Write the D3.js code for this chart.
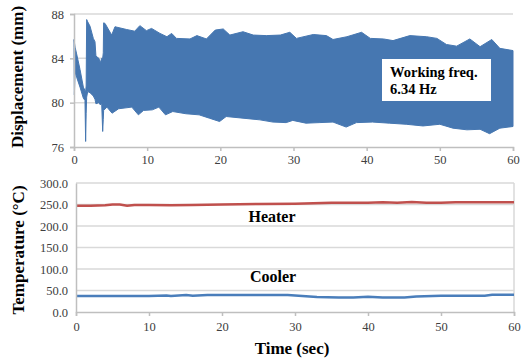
<!DOCTYPE html>
<html>
<head>
<meta charset="utf-8">
<script src="https://cdn.jsdelivr.net/npm/d3@7"></script>
<style>
  body { margin: 0; background: #fff; }
</style>
</head>
<body>
<svg id="chart" width="523" height="358"></svg>
<script>
// Displacement signal: the 6.34 Hz oscillation is drawn as its upper/lower envelope
const upperTime = [0, 0.15, 0.36, 0.82, 1.28, 1.5, 1.59, 1.66, 1.73, 1.87, 2.19, 2.64, 2.87, 3.0, 3.4, 3.6, 3.78, 3.92, 4.0, 4.05, 4.24,
  5.15, 5.6, 7.2, 8.3, 9.0, 9.9, 10.6, 11.75, 12.7, 13.35, 14.0, 15.85, 16.8, 18.1, 19.3, 20.4, 21.3, 23.1, 24.5, 26.3, 28.2, 29.5, 30.4,
  32.7, 34.5, 35.4, 37.3, 39.3, 40.5, 42.3, 43.6, 45.9, 48.2, 49.6, 50.9, 52.3, 54.1, 55.5, 57.1, 58.2, 60];
const upperDisp = [85.7, 85.0, 84.4, 83.0, 81.4, 81.1, 81.0, 81.5, 87.5, 87.3, 86.9, 85.8, 85.5, 84.2, 84.0, 83.6, 84.0, 84.0, 84.5, 87.2, 87.15,
  86.1, 86.85, 86.6, 86.45, 86.95, 86.5, 86.7, 86.25, 85.95, 86.25, 85.8, 85.75, 86.05, 85.75, 86.55, 86.65, 86.1, 86.4, 86.1, 86.05, 86.1, 86.35, 85.8,
  86.15, 86.05, 85.7, 85.95, 86.35, 85.8, 85.75, 85.6, 86.05, 85.95, 85.8, 85.25, 85.1, 85.75, 85.05, 85.7, 84.9, 84.7];
const lowerTime = [0, 0.05, 0.15, 0.36, 0.82, 1.28, 1.5, 1.59, 1.66, 1.73, 1.87, 2.19, 2.64, 2.87, 3.0, 3.4, 3.6, 3.78, 3.92, 4.0, 4.05, 4.5,
  5.2, 6.1, 7.9, 8.8, 9.5, 10.7, 11.6, 12.5, 13.5, 15.3, 17.1, 18.5, 19.9, 20.8, 23.1, 25.4, 27.2, 29.0, 29.9, 31.7, 33.5, 35.4, 37.2,
  38.6, 40.8, 43.1, 45.4, 47.7, 50.0, 51.8, 53.7, 55.5, 56.8, 58.2, 60];
const lowerDisp = [85.0, 80.7, 82.8, 82.3, 81.4, 80.4, 80.2, 76.5, 79.0, 80.5, 81.0, 80.9, 80.6, 80.3, 79.9, 80.0, 79.8, 80.0, 77.4, 78.5, 79.3, 79.6,
  79.05, 79.45, 79.6, 78.9, 79.3, 79.35, 79.6, 78.9, 79.2, 79.0, 78.9, 78.6, 78.3, 78.75, 78.6, 78.45, 78.25, 78.2, 78.4, 78.15, 78.2, 78.25, 77.8,
  78.2, 78.25, 78.15, 78.05, 77.9, 78.05, 77.7, 77.55, 77.6, 77.2, 77.7, 77.85];

// Temperatures
const heaterTime = [0, 2, 4, 5, 6, 7, 8, 10, 13, 16, 20, 25, 30, 35, 40, 42, 44, 46, 48, 50, 52, 55, 58, 60];
const heaterTemp = [247, 247, 248, 250, 250, 247, 249, 249, 248, 249, 250, 251, 252, 254, 254, 255, 254, 256, 254, 254, 255, 255, 255, 255];
const coolerTime = [0, 5, 10, 12.4, 13, 15.1, 16, 18, 22, 26, 29, 31, 33, 36, 38, 40, 42, 45, 46.6, 50, 56, 57, 60];
const coolerTemp = [37, 37, 37, 38.5, 37, 39.5, 38, 39.5, 39.5, 39.5, 39.5, 37, 35, 34, 33.5, 35.5, 33.5, 34, 36.3, 37.8, 38, 40, 40];

const timeTicks = [0, 10, 20, 30, 40, 50, 60];
const dispTicks = [76, 80, 84, 88];
const tempTicks = [0, 50, 100, 150, 200, 250, 300];

const FONT = '"Liberation Serif", "Times New Roman", serif';
const svg = d3.select('#chart').attr('font-family', FONT);
const gridColor = '#d9d9d9';
const axisColor = '#bfbfbf';
const labelColor = '#404040';

// ---- top panel: displacement ----
const x1 = d3.scaleLinear().domain([0, 60]).range([74, 513]);
const y1 = d3.scaleLinear().domain([76, 88]).range([147, 14]);

svg.append('g').selectAll('line')
  .data(dispTicks.slice(1))
  .join('line')
  .attr('x1', 74).attr('x2', 513)
  .attr('y1', d => y1(d)).attr('y2', d => y1(d))
  .attr('stroke', gridColor).attr('stroke-width', 1.5);

// envelope polygon: upper edge left->right, lower edge right->left
const envelope = upperDisp.map((v, i) => [x1(upperTime[i]), y1(v)])
  .concat(lowerDisp.map((v, i) => [x1(lowerTime[i]), y1(v)]).reverse());

svg.append('path')
  .datum(envelope)
  .attr('fill', '#4677b1')
  .attr('stroke', '#4677b1')
  .attr('stroke-width', 1)
  .attr('stroke-linejoin', 'round')
  .attr('d', d => d3.line()(d) + 'Z');

const xAxis1 = svg.append('g')
  .attr('transform', `translate(0,${y1(76)})`)
  .call(d3.axisBottom(x1).tickValues(timeTicks).tickSize(4).tickPadding(4));
const yAxis1 = svg.append('g')
  .attr('transform', `translate(${x1(0)},0)`)
  .call(d3.axisLeft(y1).tickValues(dispTicks).tickSize(4).tickPadding(6));

// ---- bottom panel: temperature ----
const x2 = d3.scaleLinear().domain([0, 60]).range([76, 514]);
const y2 = d3.scaleLinear().domain([0, 300]).range([312, 183]);

svg.append('g').selectAll('line')
  .data(tempTicks.slice(1))
  .join('line')
  .attr('x1', 76).attr('x2', 514)
  .attr('y1', d => y2(d)).attr('y2', d => y2(d))
  .attr('stroke', gridColor).attr('stroke-width', 1.5);
svg.append('line')
  .attr('x1', x2(60)).attr('x2', x2(60))
  .attr('y1', y2(0)).attr('y2', y2(300))
  .attr('stroke', gridColor).attr('stroke-width', 1.5);

const line = d3.line();
svg.append('path')
  .datum(heaterTemp.map((v, i) => [x2(heaterTime[i]), y2(v)]))
  .attr('fill', 'none').attr('stroke', '#c0504d').attr('stroke-width', 2.5)
  .attr('d', line);
svg.append('path')
  .datum(coolerTemp.map((v, i) => [x2(coolerTime[i]), y2(v)]))
  .attr('fill', 'none').attr('stroke', '#4a7ebb').attr('stroke-width', 2.5)
  .attr('d', line);

const xAxis2 = svg.append('g')
  .attr('transform', `translate(0,${y2(0)})`)
  .call(d3.axisBottom(x2).tickValues(timeTicks).tickSize(4).tickPadding(6));
const yAxis2 = svg.append('g')
  .attr('transform', `translate(${x2(0)},0)`)
  .call(d3.axisLeft(y2).tickValues(tempTicks).tickFormat(d3.format('.1f')).tickSize(0).tickPadding(8));

[xAxis1, yAxis1, xAxis2, yAxis2].forEach(g => {
  g.attr('font-family', FONT).attr('font-size', 12.5);
  g.selectAll('path, line').attr('stroke', axisColor).attr('stroke-width', 1.5);
  g.selectAll('text').attr('fill', labelColor);
});
yAxis1.selectAll('.tick line').attr('x1', -4).attr('x2', 0);

// ---- annotations ----
const bold = sel => sel.attr('font-weight', 'bold').attr('fill', '#000');

svg.append('rect')
  .attr('x', 382).attr('y', 59).attr('width', 109).attr('height', 42)
  .attr('fill', '#fff');
bold(svg.append('text')
  .attr('x', 390).attr('y', 77).attr('font-size', 14.5)
  .text('Working freq.'));
bold(svg.append('text')
  .attr('x', 390).attr('y', 94).attr('font-size', 14.5)
  .text('6.34 Hz'));

bold(svg.append('text')
  .attr('x', 272).attr('y', 222).attr('text-anchor', 'middle').attr('font-size', 16)
  .text('Heater'));
bold(svg.append('text')
  .attr('x', 273).attr('y', 282).attr('text-anchor', 'middle').attr('font-size', 16)
  .text('Cooler'));

// axis titles
bold(svg.append('text')
  .attr('transform', 'translate(23,77) rotate(-90)')
  .attr('text-anchor', 'middle').attr('font-size', 17)
  .text('Displacement (mm)'));
bold(svg.append('text')
  .attr('transform', 'translate(24,250) rotate(-90)')
  .attr('text-anchor', 'middle').attr('font-size', 17)
  .text('Temperature (°C)'));
bold(svg.append('text')
  .attr('x', 292).attr('y', 354).attr('text-anchor', 'middle').attr('font-size', 17)
  .text('Time (sec)'));
</script>
</body>
</html>
